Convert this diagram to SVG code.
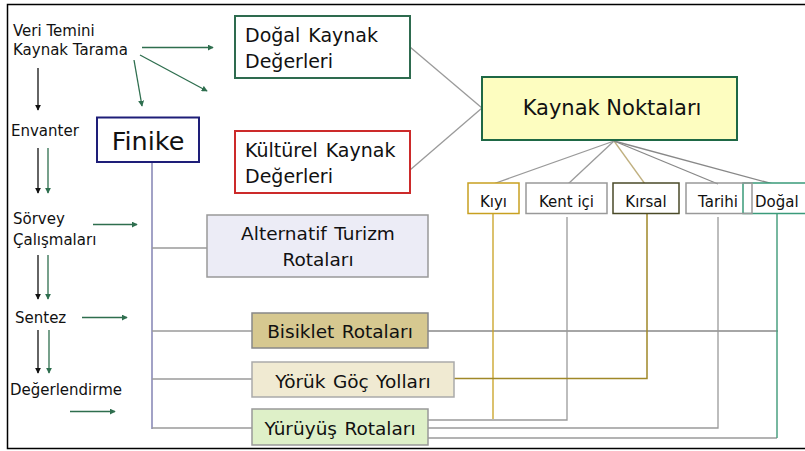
<svg xmlns="http://www.w3.org/2000/svg" width="805" height="451" viewBox="0 0 805 451">
<style>
text{font-family:"DejaVu Sans","Liberation Sans",sans-serif;fill:#111}
.side{font-size:15px}
.mid{font-size:18.5px;word-spacing:1.5px}
.sm{font-size:15px}
.ar{stroke:#111;stroke-width:1.3;fill:none}
.ag{stroke:#2e6e4e;stroke-width:1.3;fill:none}
.g{stroke:#9a9a9a;stroke-width:1.3;fill:none}
</style>
<defs>
<marker id="mb" viewBox="0 0 8 8" refX="7" refY="4" markerWidth="6" markerHeight="6" orient="auto" markerUnits="userSpaceOnUse"><path d="M0,0L8,4L0,8z" fill="#111"/></marker>
<marker id="mg" viewBox="0 0 8 8" refX="7" refY="4" markerWidth="6" markerHeight="6" orient="auto" markerUnits="userSpaceOnUse"><path d="M0,0L8,4L0,8z" fill="#2e6e4e"/></marker>
</defs>
<rect x="0" y="0" width="805" height="451" fill="#fff"/>
<rect x="7.5" y="4.5" width="820" height="444" fill="none" stroke="#000" stroke-width="1.5"/>

<g id="connectors">
<line class="ar" x1="38" y1="68" x2="38" y2="110" marker-end="url(#mb)"/>
<line class="ag" x1="142" y1="47.5" x2="213" y2="47.5" marker-end="url(#mg)"/>
<line class="ag" x1="140" y1="55" x2="207" y2="91" marker-end="url(#mg)"/>
<line class="ag" x1="134" y1="60" x2="142" y2="106" marker-end="url(#mg)"/>
<line class="ar" x1="38" y1="148" x2="38" y2="193" marker-end="url(#mb)"/>
<line class="ag" x1="48" y1="148" x2="48" y2="193" marker-end="url(#mg)"/>
<line class="ag" x1="93" y1="224.5" x2="137" y2="224.5" marker-end="url(#mg)"/>
<line class="ar" x1="38" y1="255" x2="38" y2="299" marker-end="url(#mb)"/>
<line class="ag" x1="48" y1="255" x2="48" y2="299" marker-end="url(#mg)"/>
<line class="ag" x1="82" y1="317.5" x2="127" y2="317.5" marker-end="url(#mg)"/>
<line class="ar" x1="38" y1="330" x2="38" y2="373" marker-end="url(#mb)"/>
<line class="ag" x1="49" y1="330" x2="49" y2="373" marker-end="url(#mg)"/>
<line class="ag" x1="70" y1="411.5" x2="115" y2="411.5" marker-end="url(#mg)"/>
<line x1="152" y1="162" x2="152" y2="429" stroke="#7070a8" stroke-width="1.3"/>
<line class="g" x1="152" y1="248" x2="207" y2="248"/>
<line class="g" x1="152" y1="331" x2="252" y2="331"/>
<line class="g" x1="152" y1="379" x2="252" y2="379"/>
<line class="g" x1="152" y1="428" x2="252" y2="428"/>
<line class="g" x1="410" y1="47" x2="482" y2="108"/>
<line class="g" x1="410" y1="170" x2="482" y2="108"/>
<line class="g" x1="614" y1="141" x2="493" y2="184"/>
<line class="g" x1="614" y1="141" x2="568" y2="184"/>
<line x1="614" y1="141" x2="645" y2="184" stroke="#c0b080" stroke-width="1.3"/>
<line stroke="#888" stroke-width="1.3" x1="614" y1="141" x2="718" y2="184"/>
<line stroke="#888" stroke-width="1.3" x1="614" y1="141" x2="773" y2="184"/>
<line stroke="#888" stroke-width="1.3" x1="428" y1="331" x2="778" y2="331"/>
<polyline fill="none" stroke="#c8a020" stroke-width="1.3" points="493,214 493,419"/>
<polyline class="g" points="567,217 567,420 428,420"/>
<polyline fill="none" stroke="#a08828" stroke-width="1.5" points="647,214 647,378.5 454,378.5"/>
<polyline class="g" points="718,217 718,428 428,428"/>
<polyline class="g" points="777,438 428,438"/>
<line x1="777" y1="213" x2="777" y2="438" stroke="#4aa080" stroke-width="1.5"/>
</g>

<g id="n-side">
<text class="side" x="13" y="36">Veri Temini</text>
<text class="side" x="13" y="55">Kaynak Tarama</text>
<text class="side" x="11" y="136">Envanter</text>
<text class="side" x="13" y="224">Sörvey</text>
<text class="side" x="13" y="245">Çalışmaları</text>
<text class="side" x="15" y="323">Sentez</text>
<text class="side" x="10" y="395">Değerlendirme</text>
</g>

<g id="n-finike">
<rect x="97" y="117.5" width="102" height="44.5" fill="#fff" stroke="#1e1e78" stroke-width="2"/>
<text x="148" y="150" text-anchor="middle" style="font-size:25.5px">Finike</text>
</g>

<g id="n-dogal-kaynak">
<rect x="235" y="16" width="175" height="62" fill="#fff" stroke="#2e6b4f" stroke-width="2"/>
<text x="245" y="42" style="font-size:19px;word-spacing:2px">Doğal Kaynak</text>
<text x="245" y="68" style="font-size:19px">Değerleri</text>
</g>

<g id="n-kulturel">
<rect x="235" y="131" width="175" height="62" fill="#fff" stroke="#cc2a2a" stroke-width="2"/>
<text x="245" y="157" style="font-size:19px;word-spacing:2px">Kültürel Kaynak</text>
<text x="245" y="183" style="font-size:19px">Değerleri</text>
</g>

<g id="n-kaynak-noktalari">
<rect x="482" y="77" width="255" height="63" fill="#fdfdc0" stroke="#1e6845" stroke-width="2"/>
<text x="612" y="115" text-anchor="middle" style="font-size:21px">Kaynak Noktaları</text>
</g>

<g id="n-dogal">
<rect x="743" y="183" width="80" height="30.5" fill="#fff" stroke="#3a9a7a" stroke-width="1.5"/>
<text class="sm" x="755" y="207">Doğal</text>
</g>
<g id="n-kiyi">
<rect x="468" y="183" width="51" height="30.5" fill="#fff" stroke="#c8a020" stroke-width="1.5"/>
<text class="sm" x="493.5" y="207" text-anchor="middle">Kıyı</text>
</g>
<g id="n-kent">
<rect x="526" y="183" width="81" height="30.5" fill="#fff" stroke="#999" stroke-width="1.5"/>
<text class="sm" x="566.5" y="207" text-anchor="middle">Kent içi</text>
</g>
<g id="n-kirsal">
<rect x="613" y="183" width="66" height="30.5" fill="#fff" stroke="#4a4a28" stroke-width="1.5"/>
<text class="sm" x="646" y="207" text-anchor="middle">Kırsal</text>
</g>
<g id="n-tarihi">
<rect x="686" y="183" width="66" height="30.5" fill="none" stroke="#999" stroke-width="1.5"/>
<text class="sm" x="718" y="207" text-anchor="middle">Tarihi</text>
</g>

<g id="n-alternatif">
<rect x="207" y="215" width="221" height="62" fill="#ececf6" stroke="#999" stroke-width="1.5"/>
<text class="mid" x="318" y="240" text-anchor="middle">Alternatif Turizm</text>
<text class="mid" x="318" y="266" text-anchor="middle">Rotaları</text>
</g>
<g id="n-bisiklet">
<rect x="252" y="313" width="176" height="35" fill="#d6c890" stroke="#888" stroke-width="1.5"/>
<text class="mid" x="340" y="338" text-anchor="middle">Bisiklet Rotaları</text>
</g>
<g id="n-yoruk">
<rect x="252" y="362" width="202" height="35" fill="#f0ead2" stroke="#aaa" stroke-width="1.5"/>
<text class="mid" x="353" y="388" text-anchor="middle">Yörük Göç Yolları</text>
</g>
<g id="n-yuruyus">
<rect x="252" y="409" width="176" height="36" fill="#def0c8" stroke="#999" stroke-width="1.5"/>
<text class="mid" x="340" y="435" text-anchor="middle">Yürüyüş Rotaları</text>
</g>
</svg>
